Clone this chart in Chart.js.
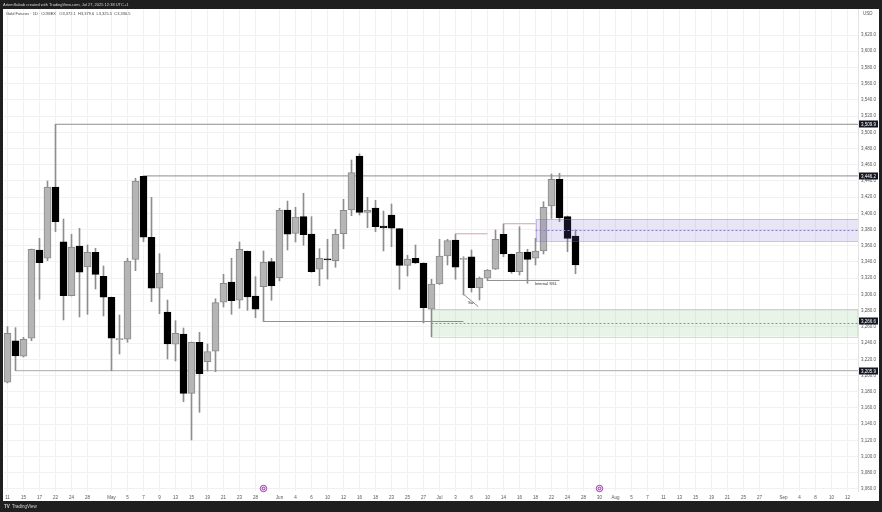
<!DOCTYPE html>
<html>
<head>
<meta charset="utf-8">
<script src="https://cdn.jsdelivr.net/npm/chart.js@4.4.1/dist/chart.umd.min.js"></script>
<style>
  html, body { margin: 0; padding: 0; background: #1e1e1e; }
  #wrap { width: 882px; height: 512px; }
</style>
</head>
<body>
<div id="wrap"><canvas id="chart" width="882" height="512"></canvas></div>
<script>
// daily candles, Apr 11 -> Jul 25 (index = trading day)
const opens = [3191.6,3242.9,3223.7,3245.9,3354.8,3344.6,3432.5,3365.0,3298.4,3359.7,
  3333.8,3352.0,3322.4,3296.5,3244.2,3244.7,3343.3,3445.7,3370.5,3307.6,
  3278.3,3238.5,3251.2,3178.0,3241.0,3217.0,3229.9,3290.3,3315.3,3292.8,
  3353.2,3298.1,3309.5,3340.4,3320.6,3404.1,3375.4,3395.9,3374.5,3331.0,
  3344.0,3341.6,3374.9,3404.1,3470.8,3401.3,3406.6,3384.4,3398.0,3381.1,
  3335.9,3344.6,3338.8,3281.7,3312.9,3347.4,3367.1,3343.3,3346.5,3307.9,
  3319.9,3331.0,3374.2,3349.5,3328.0,3352.3,3344.6,3353.6,3409.1,3442.0,
  3395.9,3372.1];
const highs = [3260.2,3259.0,3247.1,3356.0,3369.2,3439.9,3509.9,3393.0,3374.2,3381.6,
  3361.0,3356.9,3335.1,3296.8,3274.6,3344.6,3443.3,3446.2,3419.8,3350.2,
  3293.1,3267.6,3258.6,3241.3,3253.3,3238.9,3294.7,3324.8,3344.6,3364.7,
  3353.6,3321.9,3353.6,3344.6,3406.2,3415.2,3407.5,3424.7,3395.9,3356.4,
  3368.0,3380.3,3417.3,3465.8,3473.6,3419.8,3416.1,3402.9,3411.5,3381.3,
  3348.3,3361.0,3338.8,3318.7,3368.0,3368.0,3374.5,3346.5,3354.8,3321.5,
  3330.7,3379.5,3386.9,3349.9,3383.5,3355.7,3369.2,3414.4,3448.6,3449.4,
  3396.7,3379.6];
const lows = [3190.8,3205.9,3222.8,3242.9,3294.0,3341.6,3377.4,3268.5,3298.1,3272.2,
  3275.5,3306.7,3273.4,3205.9,3226.5,3241.0,3329.3,3365.0,3291.0,3276.2,
  3220.4,3217.9,3167.7,3120.4,3154.6,3205.6,3204.7,3284.5,3275.5,3282.9,
  3280.4,3271.3,3266.6,3292.8,3316.6,3354.8,3364.7,3360.6,3327.3,3310.8,
  3319.0,3333.5,3356.4,3397.1,3398.0,3382.3,3377.4,3353.6,3358.9,3306.3,
  3322.7,3338.2,3264.8,3247.9,3312.3,3336.3,3318.7,3299.3,3303.0,3293.1,
  3316.9,3330.7,3346.5,3326.1,3324.0,3313.7,3336.3,3349.9,3393.9,3389.7,
  3352.7,3325.5];
const closes = [3252.1,3224.1,3244.7,3355.7,3339.1,3432.5,3389.7,3298.4,3358.5,3327.3,
  3352.0,3324.8,3296.5,3245.9,3245.0,3341.2,3439.9,3370.5,3307.6,3326.4,
  3238.9,3252.1,3178.0,3241.0,3202.2,3229.4,3289.8,3313.7,3292.3,3355.7,
  3296.8,3281.7,3339.6,3310.4,3404.1,3374.2,3395.5,3373.7,3328.0,3344.6,
  3342.7,3374.2,3403.8,3450.2,3401.3,3403.8,3383.5,3381.9,3381.6,3335.9,
  3343.7,3338.8,3283.6,3312.9,3347.4,3366.3,3333.5,3343.8,3308.3,3320.3,
  3330.1,3368.0,3349.9,3328.0,3352.0,3343.3,3353.6,3407.5,3442.0,3394.7,
  3369.2,3336.5];

// time axis labels (trading day index -> text)
const tickIdx = [0,2,4,6,8,10,13,15,17,19,21,23,25,27,29,31,34,36,38,40,42,44,46,48,50,52,
  54,56,58,60,62,64,66,68,70,72,74,76,78,80,82,84,86,88,90,92,94,97,99,101,103,105];
const tickText = ["11","15","17","22","24","28","May","5","7","9","13","15","19","21","23","28",
  "Jun","4","6","10","12","16","18","23","25","27","Jul","3","8","10","14","16","18","22","24",
  "28","30","Aug","5","7","11","13","15","19","21","25","27","Sep","4","8","10","12"];
const priceTicks = [3060,3080,3100,3120,3140,3160,3180,3200,3220,3240,3260,3280,3300,3320,
  3340,3360,3380,3400,3420,3440,3460,3480,3500,3520,3540,3560,3580,3600,3620];

// drawn levels
const levelValues = [3509.9, 3446.2, 3266.6, 3205.9];
const levelStart = [6, 17, 32, 1];
const levelEnd = [200, 200, 57, 200];
const zoneTop = [3393.0, 3281.9];
const zoneBottom = [3365.5, 3247.9];
const zoneStart = [66, 53];
const pinkValues = [3374.8, 3387.2];
const pinkStart = [56, 62];
const pinkEnd = [60, 66];
const sslValue = 3317.2;
const sslStart = 60, sslEnd = 69;
const eventIdx = [32, 74];

const idx = opens.map((v, i) => i);
const up = idx.map(i => closes[i] >= opens[i]);
const fmt = v => v.toLocaleString('en-US', {minimumFractionDigits: 1, maximumFractionDigits: 1});

const datasets = [
  {
    type: 'bar',
    data: idx.map(i => ({x: i, y: [lows[i], highs[i]]})),
    backgroundColor: '#8e8e8e',
    barThickness: 1,
    grouped: false,
    order: 3
  },
  {
    type: 'bar',
    data: idx.map(i => ({x: i, y: [opens[i], closes[i]]})),
    backgroundColor: idx.map(i => up[i] ? '#b5b5b5' : '#000000'),
    borderColor: idx.map(i => up[i] ? '#8a8a8a' : '#000000'),
    borderWidth: 1,
    borderSkipped: false,
    barThickness: 7,
    minBarLength: 1,
    grouped: false,
    order: 2
  }
];

levelValues.forEach((v, k) => {
  datasets.push({
    type: 'line',
    data: [{x: levelStart[k], y: v}, {x: levelEnd[k], y: v}],
    borderColor: k === 3 ? '#aaaaaa' : '#8f8f8f',
    borderWidth: 1,
    pointRadius: 0,
    order: 4
  });
});
pinkValues.forEach((v, k) => {
  datasets.push({
    type: 'line',
    data: [{x: pinkStart[k], y: v}, {x: pinkEnd[k], y: v}],
    borderColor: '#d7a3a8',
    borderWidth: 1,
    pointRadius: 0,
    order: 1
  });
});
datasets.push({
  type: 'line',
  data: [{x: sslStart, y: sslValue}, {x: sslEnd, y: sslValue}],
  borderColor: '#8f8f8f',
  borderWidth: 1,
  pointRadius: 0,
  order: 1
});
datasets.push({
  type: 'line',
  data: [{x: 57, y: 3300.2}, {x: 58.85, y: 3284.9}],
  borderColor: '#8f8f8f',
  borderWidth: 1,
  pointRadius: 0,
  order: 1
});

const overlay = {
  id: 'overlay',
  beforeDraw(chart) {
    const ctx = chart.ctx;
    ctx.save();
    ctx.fillStyle = '#ffffff';
    ctx.fillRect(0, 0, chart.width, chart.height);
    ctx.restore();
  },
  afterDatasetsDraw(chart) {
    const ctx = chart.ctx;
    const xs = chart.scales.x, ys = chart.scales.y;
    const a = chart.chartArea;
    ctx.save();
    ctx.beginPath();
    ctx.rect(a.left, a.top, a.right - a.left, a.bottom - a.top);
    ctx.clip();
    const fills = ['rgba(120,100,210,0.17)', 'rgba(90,180,90,0.14)'];
    const strokes = ['rgba(120,100,210,0.35)', 'rgba(90,170,90,0.3)'];
    const mids = ['#8c7fc4', '#7f9d7f'];
    zoneTop.forEach((t, k) => {
      const x0 = xs.getPixelForValue(zoneStart[k]);
      const y0 = ys.getPixelForValue(t);
      const y1 = ys.getPixelForValue(zoneBottom[k]);
      ctx.fillStyle = fills[k];
      ctx.fillRect(x0, y0, a.right - x0, y1 - y0);
      ctx.strokeStyle = strokes[k];
      ctx.lineWidth = 1;
      ctx.strokeRect(Math.round(x0) + 0.5, Math.round(y0) + 0.5, a.right - x0, Math.round(y1 - y0));
      const ym = Math.round(ys.getPixelForValue((t + zoneBottom[k]) / 2)) + 0.5;
      ctx.strokeStyle = mids[k];
      ctx.setLineDash([2, 2]);
      ctx.beginPath();
      ctx.moveTo(x0, ym);
      ctx.lineTo(a.right, ym);
      ctx.stroke();
      ctx.setLineDash([]);
    });
    ctx.fillStyle = '#333';
    ctx.font = '4px "Liberation Sans", Arial, sans-serif';
    ctx.textAlign = 'center';
    ctx.textBaseline = 'middle';
    ctx.fillText('Internal SSL', xs.getPixelForValue(67.3), ys.getPixelForValue(3312.5));
    ctx.fillText('Sw', xs.getPixelForValue(57.9), ys.getPixelForValue(3289));
    ctx.restore();
  },
  afterDraw(chart) {
    const ctx = chart.ctx;
    const xs = chart.scales.x, ys = chart.scales.y;
    const a = chart.chartArea;
    ctx.save();
    // event markers
    eventIdx.forEach(i => {
      const x = xs.getPixelForValue(i);
      ctx.beginPath();
      ctx.arc(x, a.bottom - 2.5, 3.2, 0, Math.PI * 2);
      ctx.fillStyle = '#f3e6f7';
      ctx.fill();
      ctx.strokeStyle = '#9c27b0';
      ctx.lineWidth = 0.9;
      ctx.stroke();
      ctx.beginPath();
      ctx.arc(x, a.bottom - 2.5, 1.3, 0, Math.PI * 2);
      ctx.stroke();
    });
    // axis price boxes
    ctx.font = '4.5px "Liberation Sans", Arial, sans-serif';
    ctx.textAlign = 'left';
    ctx.textBaseline = 'middle';
    levelValues.forEach(v => {
      const y = Math.round(ys.getPixelForValue(v));
      ctx.fillStyle = '#131722';
      ctx.fillRect(a.right + 1, y - 3.5, 19, 7);
      ctx.fillStyle = '#ffffff';
      ctx.fillText(fmt(v), a.right + 3, y + 0.3);
    });
    ctx.fillStyle = '#555';
    ctx.fillText('USD', a.right + 5, 14);
    // frame
    ctx.fillStyle = '#1f1f1f';
    ctx.fillRect(0, 0, chart.width, 9);
    ctx.fillRect(0, 0, 3, chart.height);
    ctx.fillRect(879, 0, 3, chart.height);
    ctx.fillRect(0, 501, chart.width, 11);
    ctx.fillStyle = '#d6d6d6';
    ctx.font = '4px "Liberation Sans", Arial, sans-serif';
    ctx.fillText('ArtemSabab created with TradingView.com, Jul 27, 2025 12:38 UTC+1', 3, 4.5);
    ctx.font = 'bold 4.5px "Liberation Sans", Arial, sans-serif';
    ctx.fillText('TV', 4, 506.5);
    ctx.font = '4.5px "Liberation Sans", Arial, sans-serif';
    ctx.fillText('TradingView', 12, 506.5);
    // legend
    const n = opens.length - 1;
    ctx.fillStyle = '#444';
    ctx.font = '4px "Liberation Sans", Arial, sans-serif';
    ctx.fillText('Gold Futures \u00b7 1D \u00b7 COMEX   O' + fmt(opens[n]) + '  H' + fmt(highs[n]) +
      '  L' + fmt(lows[n]) + '  C' + fmt(closes[n]), 6, 13.5);
    ctx.restore();
  }
};

new Chart(document.getElementById('chart'), {
  type: 'bar',
  data: {datasets},
  options: {
    responsive: false,
    animation: false,
    devicePixelRatio: 1,
    layout: {padding: {left: 4, top: 9, right: 4, bottom: 11}},
    plugins: {legend: {display: false}, tooltip: {enabled: false}},
    scales: {
      x: {
        type: 'linear',
        offset: false,
        min: -0.4375,
        max: 106.3125,
        afterBuildTicks: s => { s.ticks = tickIdx.map(v => ({value: v})); },
        afterFit: s => { s.height = 10; },
        ticks: {
          autoSkip: false, maxRotation: 0, padding: 4, color: '#555',
          font: {size: 4.5, family: '"Liberation Sans", Arial, sans-serif'},
          callback: v => tickText[tickIdx.indexOf(v)]
        },
        grid: {color: '#eff1f4', drawTicks: false, offset: false},
        border: {display: false}
      },
      y: {
        type: 'linear',
        position: 'right',
        min: 3057.5,
        max: 3652.1,
        afterBuildTicks: s => { s.ticks = priceTicks.map(v => ({value: v})); },
        afterFit: s => { s.width = 20; },
        ticks: {
          padding: 3, color: '#555',
          font: {size: 4.5, family: '"Liberation Sans", Arial, sans-serif'},
          callback: v => fmt(v)
        },
        grid: {color: '#eff1f4', drawTicks: false},
        border: {display: true, color: '#e3e3e3'}
      }
    }
  },
  plugins: [overlay]
});
</script>
</body>
</html>
